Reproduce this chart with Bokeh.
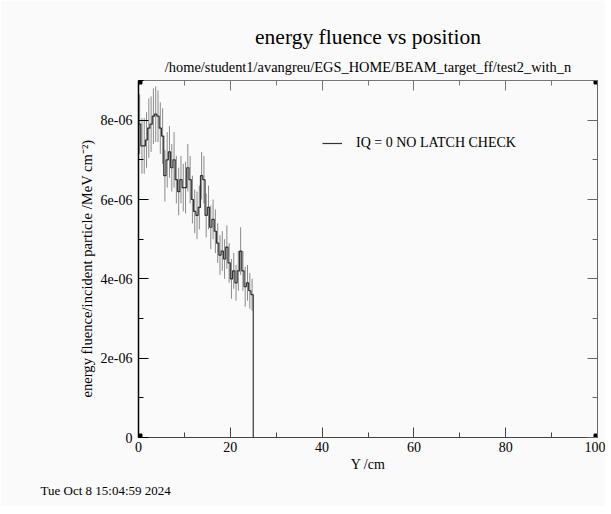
import numpy as np
from bokeh.plotting import figure
from bokeh.models import (ColumnDataSource, Range1d, LinearAxis, FixedTicker,
                          Title, Legend, LegendItem)
from bokeh.embed import file_html
from bokeh.resources import INLINE

# ---------------- data ----------------
bin_width = 0.5  # cm
values_e6 = [7.9, 7.35, 7.35, 7.5, 7.8, 7.9, 8.1, 8.15, 8.1, 7.8,
             7.6, 6.6, 7.0, 7.2, 6.8, 7.0, 6.5, 6.2, 6.5, 6.3,
             6.3, 6.8, 6.5, 6.0, 5.7, 5.6, 5.8, 6.6, 6.5, 5.6,
             5.8, 5.3, 5.5, 5.2, 4.9, 4.6, 4.7, 4.5, 4.8, 4.4,
             4.0, 4.2, 3.9, 4.2, 4.7, 4.2, 3.8, 3.9, 3.7, 3.6]
errors_e6 = [0.75, 0.7, 0.7, 0.7, 0.75, 0.7, 0.7, 0.7, 0.65, 0.65,
             0.7, 0.65, 0.7, 0.65, 0.6, 0.7, 0.6, 0.6, 0.6, 0.6,
             0.65, 0.6, 0.6, 0.6, 0.55, 0.6, 0.55, 0.6, 0.6, 0.55,
             0.55, 0.55, 0.5, 0.55, 0.5, 0.5, 0.5, 0.5, 0.55, 0.5,
             0.5, 0.45, 0.45, 0.5, 0.6, 0.5, 0.5, 0.45, 0.45, 0.4]
x_ticks = [0, 20, 40, 60, 80, 100]
x_minor = [10, 30, 50, 70, 90]
y_ticks = [0, 2e-6, 4e-6, 6e-6, 8e-6]
y_minor = [1e-6, 3e-6, 5e-6, 7e-6, 9e-6]
y_tick_labels = ["0", "2e-06", "4e-06", "6e-06", "8e-06"]
x_tick_labels = ["0", "20", "40", "60", "80", "100"]
title_text = "energy fluence vs position"
subtitle_text = "/home/student1/avangreu/EGS_HOME/BEAM_target_ff/test2_with_n"
xlabel_text = "Y /cm"
ylabel_text = "energy fluence/incident particle /MeV cm\u207b\u00b2)"
legend_text = "IQ = 0 NO LATCH CHECK"
date_text = "Tue Oct  8 15:04:59 2024"
x_lim = (0, 100)
y_lim = (0, 9e-6)

# ---------------- derived ----------------
vals = np.array(values_e6) * 1e-6
errs = np.array(errors_e6) * 1e-6
n = len(vals)
edges = np.arange(n + 1) * bin_width
centers = edges[:-1] + bin_width / 2

step_src = ColumnDataSource(dict(x=edges, y=np.append(vals, 0.0)))
err_src = ColumnDataSource(dict(x=centers, lo=vals - errs, hi=vals + errs))
corner_src = ColumnDataSource(dict(x=[x_lim[0], x_lim[1], x_lim[0], x_lim[1]],
                                   y=[y_lim[0], y_lim[0], y_lim[1], y_lim[1]]))

W, H = 605, 506
FL, FR, FT, FB = 138, 597, 80, 437  # frame edges in canvas px

FONT = "Liberation Serif"
BG = "#fafafa"

p = figure(width=W, height=H, output_backend="svg", toolbar_location=None,
           x_range=Range1d(*x_lim), y_range=Range1d(*y_lim),
           x_axis_location=None, y_axis_location=None,
           min_border_left=FL, min_border_right=W - FR,
           min_border_top=FT, min_border_bottom=H - FB)
p.title.visible = False
p.background_fill_color = BG
p.border_fill_color = BG
p.outline_line_color = None
p.xgrid.visible = False
p.ygrid.visible = False

def style_axis(ax, color, width):
    ax.major_tick_in = 10
    ax.major_tick_out = 0
    ax.minor_tick_in = 5
    ax.minor_tick_out = 0
    ax.axis_line_color = color
    ax.axis_line_width = width
    ax.major_tick_line_color = color
    ax.minor_tick_line_color = color
    ax.major_label_text_font = FONT
    ax.major_label_text_font_size = "14px"
    ax.major_label_text_color = "black"
    ax.axis_label_text_font = FONT
    ax.axis_label_text_font_size = "14px"
    ax.axis_label_text_font_style = "normal"
    ax.axis_label_text_color = "black"

xb = LinearAxis(ticker=FixedTicker(ticks=x_ticks, minor_ticks=x_minor),
                axis_label=xlabel_text)
xb.major_label_overrides = {t: s for t, s in zip(x_ticks, x_tick_labels)}
style_axis(xb, "#444444", 1)
xb.major_label_standoff = 4
xb.axis_label_standoff = 2
xt = LinearAxis(ticker=FixedTicker(ticks=x_ticks, minor_ticks=x_minor))
xt.major_label_overrides = {t: "" for t in x_ticks}
style_axis(xt, "#777777", 1)
xt.major_label_standoff = 0
yl = LinearAxis(ticker=FixedTicker(ticks=y_ticks, minor_ticks=y_minor))
yl.major_label_overrides = {t: s for t, s in zip(y_ticks, y_tick_labels)}
style_axis(yl, "black", 1.5)
yl.major_label_standoff = 6
yr = LinearAxis(ticker=FixedTicker(ticks=y_ticks, minor_ticks=y_minor))
yr.major_label_overrides = {t: "" for t in y_ticks}
style_axis(yr, "#666666", 1)
yr.major_label_standoff = 0
p.add_layout(xb, "below")
p.add_layout(xt, "above")
p.add_layout(yl, "left")
p.add_layout(yr, "right")

# titles / free texts
sub = Title(text=subtitle_text, align="center", text_font=FONT,
            text_font_size="14.4px", text_font_style="normal",
            text_color="black", standoff=12)
ttl = Title(text=title_text, align="center", text_font=FONT,
            text_font_size="21.5px", text_font_style="normal",
            text_color="black", standoff=4)
p.add_layout(sub, "above")
p.add_layout(ttl, "above")
ylab = Title(text=ylabel_text, align="left", text_font=FONT,
             text_font_size="14.6px", text_font_style="normal",
             text_color="black", standoff=5, offset=40)
p.add_layout(ylab, "left")
date = Title(text=date_text, align="left", text_font=FONT,
             text_font_size="13px", text_font_style="normal",
             text_color="black", standoff=13, offset=-98)
p.add_layout(date, "below")

# data
p.segment(x0="x", y0="lo", x1="x", y1="hi", source=err_src,
          line_color="#8a8a8a", line_width=1)
step_r = p.step(x="x", y="y", source=step_src, mode="after",
                line_color="#333333", line_width=1.2)
p.scatter(x="x", y="y", source=corner_src, marker="square", size=7,
          color="black")

legend = Legend(items=[LegendItem(label=legend_text, renderers=[step_r])],
                location=(184, 284), padding=0, margin=0,
                glyph_width=20, glyph_height=20, label_standoff=14,
                label_text_font=FONT, label_text_font_size="14px",
                label_text_color="black",
                background_fill_alpha=0, border_line_alpha=0)
p.add_layout(legend, "center")

open("out.html", "w").write(file_html(p, INLINE))
